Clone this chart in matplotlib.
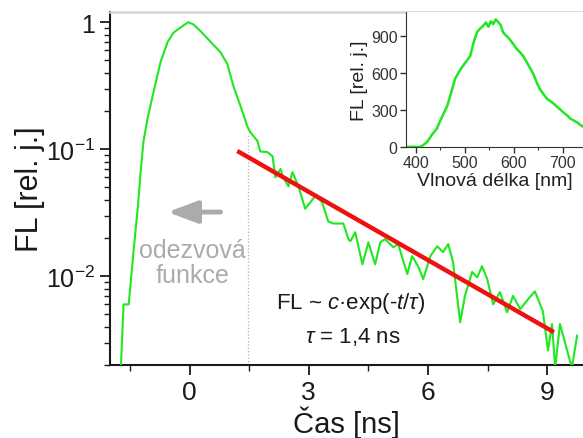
import matplotlib
matplotlib.use("Agg")
import matplotlib.pyplot as plt
from matplotlib.ticker import FixedLocator, FixedFormatter, MultipleLocator, LogLocator, NullFormatter

plt.rcParams["font.family"] = ["Liberation Sans", "DejaVu Sans"]
plt.rcParams["mathtext.fontset"] = "custom"
plt.rcParams["mathtext.rm"] = "Liberation Sans"
plt.rcParams["mathtext.it"] = "Liberation Sans:italic"
plt.rcParams["mathtext.default"] = "regular"

GREEN = "#1fe81f"
RED = "#f01010"
GRAY_TXT = "#ababab"
DARK = "#1a1a1a"

# fluorescence decay (time in ns, relative intensity)
t_ns = [-1.73, -1.66, -1.53, -1.41, -1.30, -1.23, -1.16, -1.06, -0.93, -0.73,
        -0.55, -0.40, -0.18, -0.03, 0.10, 0.28, 0.53, 0.78, 0.95, 1.11,
        1.28, 1.46, 1.53, 1.71, 1.78, 1.96, 2.09, 2.16, 2.29, 2.36,
        2.49, 2.59, 2.74, 2.91, 3.17, 3.34, 3.49, 3.62, 3.87, 4.00,
        4.05, 4.17, 4.35, 4.50, 4.67, 4.80, 4.92, 5.13, 5.25, 5.48,
        5.60, 5.75, 5.88, 6.06, 6.23, 6.38, 6.51, 6.63, 6.81, 6.93,
        7.11, 7.24, 7.36, 7.49, 7.64, 7.81, 7.99, 8.14, 8.32, 8.52,
        8.69, 8.89, 9.02, 9.12, 9.20, 9.32, 9.62, 9.75]
fl = [0.0018, 0.0060, 0.0060, 0.0155, 0.035, 0.066, 0.114, 0.172, 0.261, 0.484,
      0.70, 0.83, 0.93, 1.0, 0.96, 0.85, 0.70, 0.58, 0.47, 0.31,
      0.22, 0.15, 0.136, 0.116, 0.096, 0.095, 0.088, 0.060, 0.070, 0.060,
      0.051, 0.066, 0.051, 0.034, 0.043, 0.038, 0.027, 0.026, 0.026, 0.0195,
      0.0189, 0.0222, 0.0124, 0.0185, 0.0124, 0.0185, 0.0196, 0.0169, 0.0179, 0.0104,
      0.0144, 0.0120, 0.0095, 0.0144, 0.0172, 0.0155, 0.0179, 0.0129, 0.00434, 0.0070,
      0.0108, 0.0098, 0.0120, 0.0095, 0.0060, 0.0075, 0.0052, 0.0070, 0.0055, 0.0066,
      0.0076, 0.0053, 0.0026, 0.0042, 0.0019, 0.0042, 0.0019, 0.0034]

# exponential fit (straight line on log scale)
fit_t = [1.25, 9.12]
fit_fl = [0.095, 0.0037]
t_cut = 1.46

# inset: emission spectrum
wl = [380, 395, 408, 415, 423, 433, 443, 453, 464, 472, 480, 488, 496, 504,
      511, 518, 525, 531, 537, 543, 548, 553, 558, 563, 568, 573, 578, 585,
      590, 598, 605, 612, 619, 626, 633, 640, 647, 653, 660, 668, 675, 680,
      690, 700, 709, 715, 722, 729, 735, 741]
spec = [0, 2, 0, 15, 41, 100, 150, 240, 332, 440, 551, 610, 657, 700,
        738, 850, 932, 960, 981, 1010, 975, 1020, 997, 1035, 1013, 990, 930, 900,
        880, 840, 800, 770, 738, 690, 640, 590, 520, 470, 430, 389, 370, 355,
        320, 284, 255, 230, 215, 200, 180, 165]

fig = plt.figure(figsize=(5.83, 4.39), dpi=100)
ax = fig.add_axes([0.1887, 0.1663, 0.8113, 0.8037])

ax.plot(t_ns, fl, color=GREEN, lw=1.5, zorder=3)
ax.plot(fit_t, fit_fl, color=RED, lw=3.2, zorder=4)
ax.plot([t_cut, t_cut], [0.002, 0.13], color="#b0b0b0", lw=0.9, ls=":", zorder=2)

ax.set_yscale("log")
ax.set_xlim(-2.0, 9.9)
ax.set_ylim(0.002, 1.2)
ax.xaxis.set_major_locator(FixedLocator([0, 3, 6, 9]))
ax.xaxis.set_minor_locator(FixedLocator([-1.5, 1.5, 4.5, 7.5]))
ax.yaxis.set_major_locator(FixedLocator([1, 0.1, 0.01]))
ax.yaxis.set_major_formatter(FixedFormatter(["1", "$10^{-1}$", "$10^{-2}$"]))
ax.yaxis.set_minor_locator(LogLocator(base=10, subs=range(2, 10)))
ax.yaxis.set_minor_formatter(NullFormatter())
ax.tick_params(which="major", direction="out", length=7, width=1.3,
               labelsize=18, colors=DARK, pad=4)
ax.tick_params(axis="x", which="major", labelsize=19)
ax.tick_params(which="minor", direction="out", length=4, width=1.0, colors=DARK)
for s in ["left", "bottom"]:
    ax.spines[s].set_linewidth(1.5)
    ax.spines[s].set_color(DARK)
ax.spines["top"].set_color("#d4d4d4")
ax.spines["top"].set_linewidth(1.8)
ax.spines["right"].set_visible(False)

ax.set_xlabel("Čas [ns]", fontsize=21, color=DARK, labelpad=1)
ax.set_ylabel("FL [rel. j.]", fontsize=22, color=DARK)
ax.yaxis.set_label_coords(-0.137, 0.5)

ax.annotate("", xy=(-0.62, 0.032), xytext=(0.85, 0.032),
            arrowprops=dict(arrowstyle="-|>,head_length=1.2,head_width=0.45",
                            lw=3.5, color=GRAY_TXT, mutation_scale=15))
ax.text(0.08, 0.0128, "odezvová\nfunkce", ha="center", va="center",
        fontsize=18, color=GRAY_TXT, linespacing=1.05)
ax.text(4.05, 0.0062, r"FL ~ $\mathit{c}$·exp(-$\mathit{t}$/$\mathit{\tau}$)",
        ha="center", va="center", fontsize=16, color=DARK)
ax.text(4.12, 0.0034, r"$\mathit{\tau}$ = 1,4 ns", ha="center", va="center",
        fontsize=16, color=DARK)

# inset
ins = fig.add_axes([0.6964, 0.6629, 0.3036, 0.3075])
ins.plot(wl, spec, color=GREEN, lw=1.8)
ins.set_xlim(380, 741)
ins.set_ylim(0, 1095)
ins.xaxis.set_major_locator(MultipleLocator(100))
ins.xaxis.set_minor_locator(MultipleLocator(50))
ins.yaxis.set_major_locator(MultipleLocator(300))
ins.tick_params(which="major", direction="out", length=4, width=1.0,
                labelsize=11.5, colors="#333333", pad=2)
ins.tick_params(which="minor", direction="out", length=2.5, width=0.8, colors="#333333")
for s in ["left", "bottom"]:
    ins.spines[s].set_color("#333333")
ins.spines["top"].set_visible(False)
ins.spines["right"].set_visible(False)
ins.set_xlabel("Vlnová délka [nm]", fontsize=14, color="#222222", labelpad=1)
ins.set_ylabel("FL [rel. j.]", fontsize=14, color="#222222", labelpad=2)

fig.savefig("out.png", dpi=100)
